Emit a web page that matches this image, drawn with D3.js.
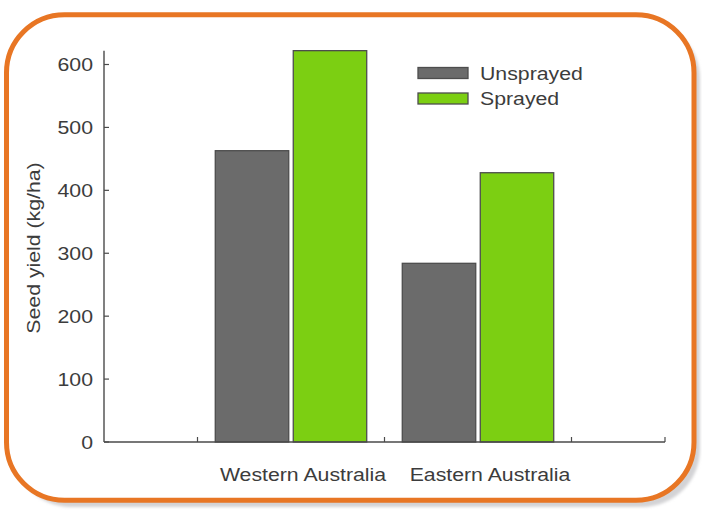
<!DOCTYPE html>
<html>
<head>
<meta charset="utf-8">
<script src="https://cdn.jsdelivr.net/npm/d3@7"></script>
<style>
  html, body { margin: 0; padding: 0; background: #ffffff; }
  svg { display: block; }
  text { font-family: "Liberation Sans", Arial, Helvetica, sans-serif; fill: #3c3c3c; }
</style>
</head>
<body>
<svg id="chart" width="702" height="512"></svg>
<script>
// Seed yield by region, unsprayed vs sprayed
const categories = ["Western Australia", "Eastern Australia"];
const seriesNames = ["Unsprayed", "Sprayed"];
const unsprayed = [463, 284];
const sprayed = [622, 428];
const yTickValues = [0, 100, 200, 300, 400, 500, 600];
const yTitle = "Seed yield (kg/ha)";

const seriesValues = [unsprayed, sprayed];
const colors = ["#6b6b6b", "#7ccf12"];

const W = 702, H = 512;
const svg = d3.select("#chart");

// Frame: soft drop shadow behind a rounded orange border
const defs = svg.append("defs");
const blur = defs.append("filter").attr("id", "shadowBlur")
  .attr("x", "-5%").attr("y", "-5%").attr("width", "110%").attr("height", "110%");
blur.append("feGaussianBlur").attr("stdDeviation", 1.5);

svg.append("rect")
  .attr("x", 13).attr("y", 21).attr("width", 687).attr("height", 486)
  .attr("rx", 58).attr("ry", 58)
  .attr("fill", "#d3d3d5")
  .attr("filter", "url(#shadowBlur)");

svg.append("rect")
  .attr("x", 6.5).attr("y", 14.7).attr("width", 687.5).attr("height", 485.5)
  .attr("rx", 58).attr("ry", 58)
  .attr("fill", "#ffffff")
  .attr("stroke", "#e87624").attr("stroke-width", 5);

// Plot geometry
const plot = { left: 104, right: 665, bottom: 442, top: 64.5 };
const stretch = 1.15;   // wide lettering
const fontSize = 18.5;

const y = d3.scaleLinear().domain([0, 600]).range([plot.bottom, plot.top]);

// Categories sit in full-width slots; the axis runs half a slot past each end
const slot = (plot.right - plot.left) / (categories.length + 1);
const x0 = d3.scaleBand().domain(categories)
  .range([plot.left + slot / 2, plot.right - slot / 2]).padding(0);
const x1 = d3.scaleBand().domain(seriesNames)
  .range([0, x0.bandwidth()]).paddingInner(0.058).paddingOuter(0.228);

const axisColor = "#4a4a4a";

// Bars
const g = svg.append("g");
categories.forEach((cat, ci) => {
  seriesNames.forEach((s, si) => {
    const v = seriesValues[si][ci];
    g.append("rect")
      .attr("x", x0(cat) + x1(s))
      .attr("y", y(v))
      .attr("width", x1.bandwidth())
      .attr("height", y(0) - y(v))
      .attr("fill", colors[si])
      .attr("stroke", "#4d4d4d")
      .attr("stroke-width", 1.3);
  });
});

// Y axis: line reaches up to the tallest bar, ticks point inward
const yAxisG = svg.append("g");
yAxisG.append("line")
  .attr("x1", plot.left).attr("x2", plot.left)
  .attr("y1", y(0)).attr("y2", y(d3.max(sprayed)))
  .attr("stroke", axisColor).attr("stroke-width", 1.4);
yTickValues.forEach(t => {
  yAxisG.append("line")
    .attr("x1", plot.left).attr("x2", plot.left + 5)
    .attr("y1", y(t)).attr("y2", y(t))
    .attr("stroke", axisColor).attr("stroke-width", 1.2);
  yAxisG.append("text")
    .attr("transform", `translate(${plot.left - 11},${y(t)}) scale(${stretch},1)`)
    .attr("text-anchor", "end")
    .attr("dy", "0.36em")
    .attr("font-size", fontSize)
    .text(d3.format("d")(t));
});

// X axis: baseline with inward ticks at slot boundaries and the far end
const xAxisG = svg.append("g");
xAxisG.append("line")
  .attr("x1", plot.left).attr("x2", plot.right)
  .attr("y1", y(0)).attr("y2", y(0))
  .attr("stroke", axisColor).attr("stroke-width", 1.4);
const boundaries = categories.map(c => x0(c)).concat([x0.range()[1], plot.right]);
boundaries.forEach(bx => {
  xAxisG.append("line")
    .attr("x1", bx).attr("x2", bx)
    .attr("y1", y(0)).attr("y2", y(0) - 5)
    .attr("stroke", axisColor).attr("stroke-width", 1.2);
});
categories.forEach(cat => {
  xAxisG.append("text")
    .attr("transform", `translate(${x0(cat) + x0.bandwidth() / 2 + 12},481) scale(${stretch},1)`)
    .attr("text-anchor", "middle")
    .attr("font-size", fontSize)
    .text(cat);
});

// Y axis title
svg.append("text")
  .attr("transform", `translate(40,248) rotate(-90) scale(${stretch},1)`)
  .attr("text-anchor", "middle")
  .attr("font-size", fontSize)
  .text(yTitle);

// Legend
const legend = svg.append("g");
seriesNames.forEach((s, i) => {
  const ly = 73 + i * 25.5;
  legend.append("rect")
    .attr("x", 418).attr("y", ly - 5.5)
    .attr("width", 50).attr("height", 11)
    .attr("fill", colors[i])
    .attr("stroke", "#4d4d4d").attr("stroke-width", 1.3);
  legend.append("text")
    .attr("transform", `translate(480,${ly}) scale(${stretch},1)`)
    .attr("dy", "0.36em")
    .attr("font-size", fontSize)
    .text(s);
});
</script>
</body>
</html>
